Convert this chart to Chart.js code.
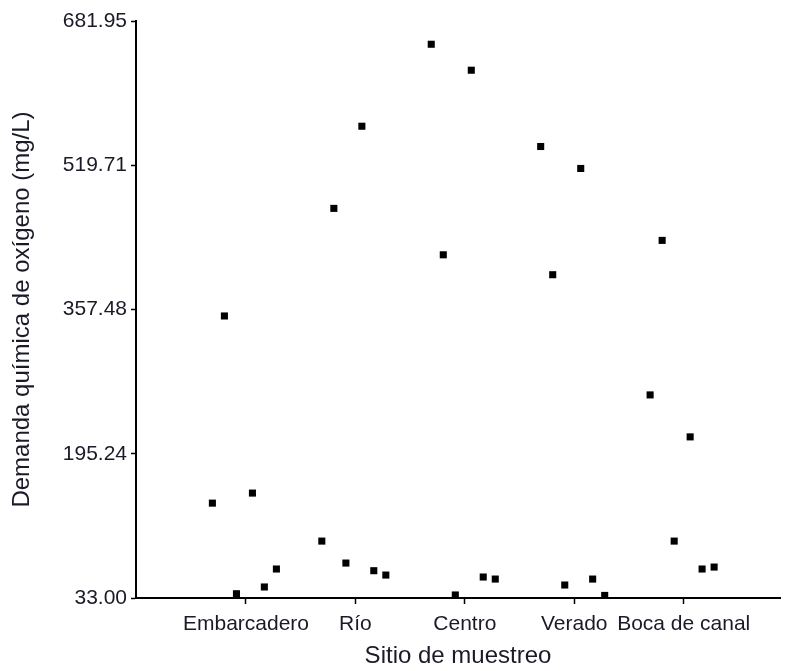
<!DOCTYPE html>
<html lang="es">
<head>
<meta charset="utf-8">
<title>Demanda química de oxígeno por sitio de muestreo</title>
<script src="https://cdn.jsdelivr.net/npm/chart.js@4/dist/chart.umd.min.js"></script>
<style>
  html, body { margin: 0; padding: 0; background: #ffffff; }
  #wrap { width: 785px; height: 671px; }
</style>
</head>
<body>
<div id="wrap"><canvas id="c" width="785" height="671"></canvas></div>
<script>
// Sampling sites along the x axis
const categories = ['Embarcadero', 'Río', 'Centro', 'Verado', 'Boca de canal'];

// Horizontal spread of the six samples around each site (in site units)
const sampleOffsets = [-0.307, -0.197, -0.087, 0.059, 0.168, 0.278];

// Chemical oxygen demand (mg/L), six samples per site
const embarcadero = [139.7, 350.2, 37.8, 151.0, 45.4, 65.6];
const rio         = [97.0, 471.2, 72.3, 563.6, 63.7, 58.8];
const centro      = [655.8, 419.0, 36.4, 626.6, 56.6, 54.3];
const verado      = [540.8, 396.6, 47.6, 516.1, 54.3, 35.9];
const bocaDeCanal = [261.4, 435.2, 97.0, 214.2, 65.6, 67.8];

// Value axis ticks
const yTicks = [33.00, 195.24, 357.48, 519.71, 681.95];

const siteValues = [embarcadero, rio, centro, verado, bocaDeCanal];

const points = [];
siteValues.forEach((vals, i) => {
  vals.forEach((v, j) => {
    points.push({ x: i + 1 + sampleOffsets[j], y: v });
  });
});

const FONT = 'Arial, "Liberation Sans", Helvetica, sans-serif';
const TEXT = '#1a1a28';

new Chart(document.getElementById('c'), {
  type: 'scatter',
  data: {
    datasets: [{
      data: points,
      pointStyle: 'rect',
      pointRadius: 5,
      pointHoverRadius: 5,
      pointBorderWidth: 0,
      backgroundColor: '#000000',
      borderColor: '#000000'
    }]
  },
  options: {
    responsive: false,
    animation: false,
    events: [],
    layout: { padding: { top: 21, right: 0, bottom: 0, left: 0 } },
    plugins: {
      legend: { display: false },
      tooltip: { enabled: false }
    },
    scales: {
      x: {
        type: 'linear',
        min: -0.005,
        max: 5.88,
        afterFit: (s) => { s.height = 73; },
        afterBuildTicks: (s) => {
          s.ticks = categories.map((_, i) => ({ value: i + 1 }));
        },
        border: { display: true, color: '#000000', width: 2 },
        grid: {
          display: true,
          drawOnChartArea: false,
          drawTicks: true,
          tickLength: 6,
          tickWidth: 1.5,
          tickColor: '#000000'
        },
        ticks: {
          autoSkip: false,
          maxRotation: 0,
          padding: 8,
          color: TEXT,
          font: { family: FONT, size: 21 },
          callback: (v) => categories[Math.round(v) - 1] ?? ''
        },
        title: {
          display: true,
          text: 'Sitio de muestreo',
          color: TEXT,
          font: { family: FONT, size: 24 },
          padding: { top: 0, bottom: 0 }
        }
      },
      y: {
        type: 'linear',
        min: 33.00,
        max: 681.95,
        afterFit: (s) => { s.width = 136; },
        afterBuildTicks: (s) => {
          s.ticks = yTicks.map(v => ({ value: v }));
        },
        border: { display: true, color: '#000000', width: 2 },
        grid: {
          display: true,
          drawOnChartArea: false,
          drawTicks: true,
          tickLength: 5,
          tickWidth: 1.5,
          tickColor: '#000000'
        },
        ticks: {
          autoSkip: false,
          padding: 4,
          color: TEXT,
          font: { family: FONT, size: 21 },
          callback: (v) => Number(v).toFixed(2)
        },
        title: {
          display: true,
          text: 'Demanda química de oxígeno (mg/L)',
          color: TEXT,
          font: { family: FONT, size: 24 },
          padding: { top: 8, bottom: 0 }
        }
      }
    }
  }
});
</script>
</body>
</html>
